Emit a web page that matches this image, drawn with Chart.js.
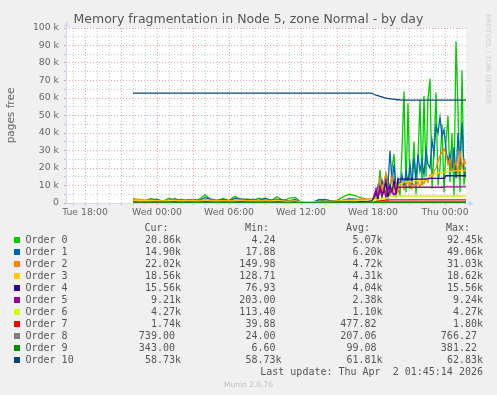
<!DOCTYPE html>
<html><head><meta charset="utf-8">
<script src="https://cdn.jsdelivr.net/npm/chart.js@4/dist/chart.umd.min.js"></script>
<style>
html,body{margin:0;padding:0;background:#f0f0f0;}
#wrap{position:relative;width:497px;height:395px;overflow:hidden;background:#f0f0f0;}
canvas{position:absolute;left:0;top:0;}
.mono{position:absolute;white-space:pre;font-family:'DejaVu Sans Mono',monospace;font-size:10px;line-height:12px;color:#555;}
.sq{position:absolute;width:6px;height:6px;}
#title{position:absolute;left:0;top:10.5px;width:497px;text-align:center;font-family:'DejaVu Sans',sans-serif;font-size:12.5px;line-height:15px;color:#555;white-space:nowrap;}
#rrd{position:absolute;left:484px;top:14px;writing-mode:vertical-rl;font-family:'DejaVu Sans',sans-serif;font-size:7px;color:#cfcfcf;white-space:nowrap;}
#munin{position:absolute;left:0;width:497px;top:379.5px;text-align:center;font-family:'DejaVu Sans',sans-serif;font-size:7.5px;line-height:9px;color:#bdbdbd;}
</style></head>
<body><div id="wrap">
<canvas id="c" width="497" height="395"></canvas>
<div id="title">Memory fragmentation in Node 5, zone Normal - by day</div>
<div id="rrd">RRDTOOL / TOBI OETIKER</div>
<div id="munin">Munin 2.0.76</div>
</div>
<script>
// ---- time axis (minutes since Tue 00:00) ----
const timesA = [1320,1350,1380,1410,1440,1470,1500,1530,1560,1590,1620,1650,1680,1710,1740,1770,1800,1830,1860,1890,1920,1950,1980,2010,2040,2070,2100,2130,2160,2190,2220,2250,2280,2310,2340,2370,2400,2430,2460,2490];
const timesB = [2505,2515,2525,2535,2545,2555,2565,2575,2585,2595,2605,2615,2625,2635,2645,2655,2665,2675,2685,2695,2705,2715,2725,2735,2745,2755,2765,2775,2785,2795,2805,2815,2825,2835,2845,2855,2865,2875,2885,2895,2905,2915,2925,2935,2945,2955,2965,2975,2985];
const xTickValues = [1080,1440,1800,2160,2520,2880];
const xTickLabels = ['Tue 18:00','Wed 00:00','Wed 06:00','Wed 12:00','Wed 18:00','Thu 00:00'];
const yTickValues = [0,10,20,30,40,50,60,70,80,90,100];
const yTickLabels = ['0','10 k','20 k','30 k','40 k','50 k','60 k','70 k','80 k','90 k','100 k'];

// ---- series values (thousands of pages) ----
const order0 = [2.5,1.8,1.2,2.6,1.5,1.0,2.8,1.4,2.2,1.2,1.5,2.0,4.6,1.8,1.3,2.6,1.5,3.8,1.6,2.4,1.5,2.8,1.8,1.2,3.6,1.4,2.7,3.2,0.6,0.05,0.4,2.0,1.2,1.0,1.5,3.5,5.0,4.2,3.0,2.0,
 2.5,1.5,4,2,6,19,3,10,5,14,4,20,28,6,12,4,30,63.8,6,57,8,15,35,5,25,59,10,61.3,15,60,71,8,30,63.2,10,20,45,6,35,50,12,40,4,92.45,54,6,75.8,10,20.86];
const order1 = [1.5,2.0,1.2,1.8,2.2,1.0,1.6,2.4,1.2,1.8,2.0,1.4,3.0,2.2,1.5,2.0,1.2,2.6,2.4,1.8,2.2,1.5,2.8,1.6,2.2,1.8,1.2,2.0,0.4,0.3,0.5,1.8,2.0,1.2,0.8,1.5,2.5,2.2,1.8,2.0,
 1.5,2,3,5,10,6,13,8,16,10,30,12,22,8,14,10,16,9,18,12,22,10,26,14,28,18,24,16,30,22,20,36,28,44,40,49.06,38,42,30,24,28,18,32,14,40,22,46,18,14.9];
const order2 = [2.2,2.0,1.6,1.8,1.5,1.2,1.6,1.8,1.4,1.5,1.7,1.3,1.8,1.6,1.4,1.5,1.3,1.6,1.8,1.4,1.6,1.3,1.5,1.4,1.8,1.2,1.0,1.4,0.5,0.4,0.4,0.8,1.0,0.9,1.2,1.6,2.0,1.8,2.4,2.2,
 2,2,3,8,5,14,6,12,17,7,10,15,8,11,6,9,12,8,10,9,12,8,11,10,12,9,13,11,14,12,16,14,18,20,24,27,29,31.03,28,22,25,18,20,24,16,30,20,25,22.02];
const order3 = [1.5,1.6,1.3,1.4,1.2,1.0,1.3,1.4,1.2,1.2,1.3,1.1,1.3,1.2,1.1,1.2,1.0,1.3,1.4,1.1,1.2,1.0,1.2,1.1,1.3,1.0,0.9,1.1,0.5,0.4,0.5,0.7,0.9,0.8,1.0,1.2,1.4,1.3,1.6,1.8,
 2,2,2.5,3,4,5,4,6,5,8,6,9,7,10,8,11,11,12,12,12,12.5,12,12.5,13,12,13,13,13.5,13,14,15,16,16.5,17,17,17.5,17,17.5,18,18,18.2,18,18.4,18.5,18.62,18.5,18.6,18.5,18.56];
const order4 = [0.6,0.5,0.4,0.5,0.5,0.4,0.5,0.6,0.4,0.5,0.5,0.4,0.6,0.5,0.4,0.5,0.4,0.5,0.6,0.5,0.5,0.4,0.5,0.4,0.6,0.4,0.3,0.5,0.1,0.08,0.1,0.3,0.4,0.4,0.5,0.5,0.6,0.5,0.7,0.6,
 0.8,1,3,6,2,9,4,7,12,3,10,6,13,5,13.6,13.6,13.6,13.6,13.6,13.6,13.6,13.6,13.6,13.6,13.6,13.6,13.6,13.6,13.6,14.1,14.1,14.1,14.1,14.1,14.1,14.1,14.1,14.1,15.56,15.56,15.56,15.56,15.56,15.56,15.56,15.56,15.56,15.56,15.56];
const order5 = [0.4,0.35,0.3,0.4,0.35,0.3,0.4,0.45,0.3,0.4,0.4,0.3,0.45,0.4,0.3,0.4,0.3,0.4,0.45,0.35,0.4,0.3,0.4,0.3,0.45,0.3,0.25,0.35,0.22,0.21,0.2,0.25,0.3,0.3,0.35,0.4,0.45,0.4,0.5,0.5,
 0.6,1,4,8,3,9,5,8,3,9.24,6,8,4,7,9.0,9.0,9.0,9.0,9.0,9.0,9.0,9.0,9.0,9.0,9.0,9.0,9.0,9.0,9.0,9.0,9.0,9.0,9.0,9.0,9.0,9.0,9.0,9.21,9.21,9.21,9.21,9.21,9.21,9.21,9.21,9.21,9.21,9.21,9.21];
const order6 = [0.2,0.2,0.18,0.2,0.2,0.18,0.2,0.22,0.2,0.2,0.2,0.18,0.2,0.2,0.18,0.2,0.18,0.2,0.22,0.2,0.2,0.18,0.2,0.18,0.2,0.18,0.16,0.18,0.12,0.11,0.12,0.15,0.18,0.18,0.2,0.2,0.22,0.2,0.25,0.25,
 0.3,0.5,1,2,1.5,2.5,2,3,2.5,3,3.5,3.8,4.0,4.0,4.0,4.0,4.0,4.0,4.0,4.0,4.0,4.0,4.0,4.0,4.0,4.0,4.0,4.0,4.0,4.0,4.0,4.0,4.0,4.0,4.0,4.0,4.0,4.0,4.0,4.0,4.0,4.0,4.0,4.0,4.0,4.0,4.0,4.0,4.1,4.2,4.25,4.27];
const order7 = [0.15,0.15,0.14,0.15,0.15,0.14,0.15,0.16,0.15,0.15,0.15,0.14,0.15,0.15,0.14,0.15,0.14,0.15,0.16,0.15,0.15,0.14,0.15,0.14,0.15,0.14,0.12,0.14,0.05,0.04,0.05,0.1,0.12,0.12,0.14,0.15,0.16,0.15,0.18,0.18,
 0.1,0.3,0.5,0.8,1,1.2,1.4,1.5,1.6,1.7,1.74,1.74,1.74,1.74,1.74,1.74,1.74,1.74,1.74,1.74,1.74,1.74,1.74,1.8,1.74,1.74,1.74,1.74,1.74,1.74,1.74,1.74,1.74,1.74,1.74,1.74,1.74,1.74,1.74,1.74,1.74,1.74,1.74,1.74,1.74,1.74,1.74,1.74,1.74];
const order8 = [0.05,0.05,0.05,0.05,0.05,0.05,0.05,0.05,0.05,0.05,0.05,0.05,0.05,0.05,0.05,0.05,0.05,0.05,0.05,0.05,0.05,0.05,0.05,0.05,0.05,0.05,0.04,0.05,0.024,0.024,0.03,0.04,0.05,0.05,0.05,0.05,0.05,0.05,0.06,0.06,
 0.1,0.2,0.3,0.4,0.5,0.6,0.7,0.739,0.739,0.739,0.739,0.739,0.739,0.739,0.739,0.739,0.739,0.739,0.739,0.739,0.739,0.739,0.739,0.739,0.739,0.766,0.739,0.739,0.739,0.739,0.739,0.739,0.739,0.739,0.739,0.739,0.739,0.739,0.739,0.739,0.739,0.739,0.739,0.739,0.739,0.739,0.739,0.739,0.739];
const order9 = [0.02,0.02,0.02,0.02,0.02,0.02,0.02,0.02,0.02,0.02,0.02,0.02,0.02,0.02,0.02,0.02,0.02,0.02,0.02,0.02,0.02,0.02,0.02,0.02,0.02,0.02,0.02,0.02,0.007,0.007,0.01,0.02,0.02,0.02,0.02,0.02,0.02,0.02,0.02,0.02,
 0.05,0.1,0.15,0.2,0.25,0.3,0.343,0.343,0.343,0.343,0.343,0.343,0.343,0.343,0.343,0.343,0.343,0.343,0.343,0.381,0.343,0.343,0.343,0.343,0.343,0.343,0.343,0.343,0.343,0.343,0.343,0.343,0.343,0.343,0.343,0.343,0.343,0.343,0.343,0.343,0.343,0.343,0.343,0.343,0.343,0.343,0.343,0.343,0.343];
const order10 = [62.83,62.83,62.83,62.83,62.83,62.83,62.83,62.83,62.83,62.83,62.83,62.83,62.83,62.83,62.83,62.83,62.83,62.83,62.83,62.83,62.83,62.83,62.83,62.83,62.83,62.83,62.83,62.83,62.83,62.83,62.83,62.83,62.83,62.83,62.83,62.83,62.83,62.83,62.83,62.83,
 62.83,62.7,62.0,61.6,61.3,60.9,60.6,60.2,59.9,59.6,59.6,59.4,59.3,59.1,59.0,58.9,58.8,58.73,58.73,58.73,58.73,58.73,58.73,58.73,58.73,58.73,58.73,58.73,58.73,58.73,58.73,58.73,58.73,58.73,58.73,58.73,58.73,58.73,58.73,58.73,58.73,58.73,58.73,58.73,58.73,58.73,58.73,58.73,58.73];

// ---- legend ----
const seriesNames = ['Order 0','Order 1','Order 2','Order 3','Order 4','Order 5','Order 6','Order 7','Order 8','Order 9','Order 10'];
const seriesColors = ['#00CC00','#0066B3','#FF8000','#FFCC00','#330099','#990099','#CCFF00','#FF0000','#808080','#008F00','#00487D'];
const curVals = ['20.86k','14.90k','22.02k','18.56k','15.56k','9.21k','4.27k','1.74k','739.00 ','343.00 ','58.73k'];
const minVals = ['4.24 ','17.88 ','149.98 ','128.71 ','76.93 ','203.00 ','113.40 ','39.88 ','24.00 ','6.60 ','58.73k'];
const avgVals = ['5.07k','6.20k','4.72k','4.31k','4.04k','2.38k','1.10k','477.82 ','207.06 ','99.08 ','61.81k'];
const maxVals = ['92.45k','49.06k','31.03k','18.62k','15.56k','9.24k','4.27k','1.80k','766.27 ','381.22 ','62.83k'];
const lastUpdate = 'Last update: Thu Apr  2 01:45:14 2026';

const allSeries = [order0,order1,order2,order3,order4,order5,order6,order7,order8,order9,order10];
const times = timesA.concat(timesB);

const wrap = document.getElementById('wrap');
function addDiv(cls, text, style){ const d=document.createElement('div'); d.className=cls; d.textContent=text; Object.assign(d.style, style); wrap.appendChild(d); return d; }
addDiv('mono','Cur:',{left:'144.5px',top:'222px'});
addDiv('mono','Min:',{left:'245px',top:'222px'});
addDiv('mono','Avg:',{left:'346px',top:'222px'});
addDiv('mono','Max:',{left:'446px',top:'222px'});
seriesNames.forEach((n,i)=>{
  const top = 234 + 12*i;
  addDiv('sq','',{left:'14px',top:(top+3)+'px',background:seriesColors[i]});
  addDiv('mono',n,{left:'25.5px',top:top+'px'});
  addDiv('mono',curVals[i],{right:(497-181)+'px',top:top+'px',textAlign:'right'});
  addDiv('mono',minVals[i],{right:(497-281.5)+'px',top:top+'px',textAlign:'right'});
  addDiv('mono',avgVals[i],{right:(497-382.5)+'px',top:top+'px',textAlign:'right'});
  addDiv('mono',maxVals[i],{right:(497-483)+'px',top:top+'px',textAlign:'right'});
});
addDiv('mono',lastUpdate,{right:(497-483)+'px',top:'366px',textAlign:'right'});

const AXIS = '#CFD6F8';
const MAJ = 'rgba(222,79,79,0.55)';
const MIN = 'rgba(143,143,143,0.5)';

const canvasBg = {
  id:'canvasBg',
  beforeDraw(chart){
    const {ctx, chartArea:a} = chart;
    ctx.save(); ctx.fillStyle = '#ffffff';
    ctx.fillRect(a.left, a.top, a.right - a.left, a.bottom - a.top);
    ctx.restore();
  }
};
const axisPlugin = {
  id:'munAxes',
  beforeDatasetsDraw(chart){
    const {ctx, chartArea:a} = chart;
    ctx.save();
    ctx.strokeStyle = AXIS; ctx.fillStyle = AXIS; ctx.lineWidth = 1;
    ctx.beginPath();
    ctx.moveTo(a.left+0.5, a.bottom+0.5); ctx.lineTo(a.left+0.5, a.top-3);
    ctx.moveTo(a.left, a.bottom+0.5); ctx.lineTo(a.right+3, a.bottom+0.5);
    ctx.stroke();
    ctx.beginPath();
    ctx.moveTo(a.left-2, a.top-1.5); ctx.lineTo(a.left+3, a.top-1.5); ctx.lineTo(a.left+0.5, a.top-7); ctx.closePath(); ctx.fill();
    ctx.beginPath();
    ctx.moveTo(a.right+3, a.bottom-2); ctx.lineTo(a.right+3, a.bottom+3); ctx.lineTo(a.right+8, a.bottom+0.5); ctx.closePath(); ctx.fill();
    ctx.restore();
  }
};

const datasets = allSeries.map((vals,i)=>({
  label: seriesNames[i],
  data: times.map((t,j)=>({x:t, y:vals[j]})),
  borderColor: seriesColors[i],
  backgroundColor: seriesColors[i],
  borderWidth: 1.3,
  pointRadius: 0,
  tension: 0,
  fill: false,
  order: 10 - i
}));

const gridCol = (c, m) => (c.tick && c.tick.value % m === 0) ? MAJ : MIN;

new Chart(document.getElementById('c'), {
  type:'line',
  data:{datasets},
  plugins:[canvasBg, axisPlugin],
  options:{
    responsive:false, animation:false, devicePixelRatio:1,
    layout:{padding:{top:28,right:31,left:0,bottom:0}},
    plugins:{legend:{display:false}, title:{display:false}, tooltip:{enabled:false}},
    scales:{
      x:{
        type:'linear', min:985, max:2985,
        afterFit(s){ s.height = 192; },
        border:{display:false, dash:[1,2]},
        grid:{color:c=>gridCol(c,180), tickColor:c=>gridCol(c,180), lineWidth:1, tickLength:2},
        ticks:{stepSize:60, includeBounds:false, autoSkip:false, maxRotation:0, minRotation:0, padding:2,
          color:'#666', font:{family:"'DejaVu Sans'", size:9.3},
          callback:v=>{const k=xTickValues.indexOf(v); return k>=0?xTickLabels[k]:'';}}
      },
      y:{
        min:0, max:100,
        afterFit(s){ s.width = 66; },
        border:{display:false, dash:[1,2]},
        grid:{color:c=>gridCol(c,10), tickColor:c=>gridCol(c,10), lineWidth:1, tickLength:2},
        ticks:{stepSize:5, autoSkip:false, padding:5, color:'#666', font:{family:"'DejaVu Sans'", size:9.3},
          callback:v=>{const k=yTickValues.indexOf(v); return k>=0?yTickLabels[k]:'';}},
        title:{display:true, text:'pages free', color:'#666', font:{family:"'DejaVu Sans'", size:10.5}, padding:{top:4.7,bottom:0}}
      }
    }
  }
});
</script>
</body></html>
